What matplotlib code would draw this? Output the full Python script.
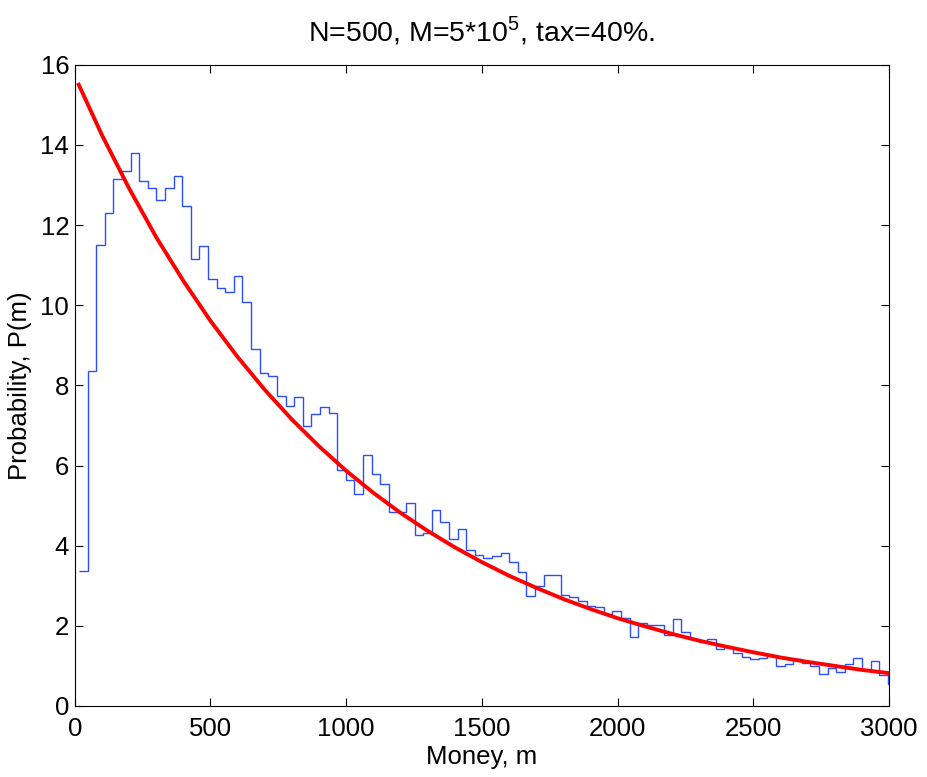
import numpy as np
import matplotlib
matplotlib.use("Agg")
from matplotlib import pyplot as plt

# histogram of simulated money distribution (bin heights)
bin_start = 15.8
bin_width = 31.7
hist_vals = [3.37, 8.35, 11.5, 12.3, 13.15, 13.35, 13.8, 13.1, 12.93, 12.62,
             12.93, 13.22, 12.47, 11.16, 11.48, 10.65, 10.42, 10.32, 10.74, 10.07,
             8.9, 8.31, 8.24, 7.74, 7.49, 7.72, 6.98, 7.28, 7.46, 7.31,
             5.89, 5.65, 5.28, 6.26, 5.80, 5.55, 4.83, 4.83, 5.06, 4.27,
             4.31, 4.88, 4.58, 4.16, 4.41, 3.90, 3.77, 3.70, 3.75, 3.81,
             3.60, 3.34, 2.74, 3.00, 3.28, 3.26, 2.76, 2.71, 2.63, 2.49,
             2.47, 2.29, 2.37, 2.19, 1.73, 2.08, 2.01, 2.01, 1.76, 2.17,
             1.84, 1.67, 1.59, 1.68, 1.43, 1.46, 1.33, 1.23, 1.16, 1.20,
             1.25, 1.01, 1.05, 1.16, 1.06, 1.00, 0.80, 0.95, 0.85, 1.04,
             1.19, 0.91, 1.13, 0.77, 0.56]

# theoretical (Boltzmann-Gibbs) curve
curve_m = [15, 100, 200, 300, 400, 500, 600, 700, 800, 900, 1000,
           1100, 1200, 1300, 1400, 1500, 1600, 1700, 1800, 1900, 2000,
           2100, 2200, 2300, 2400, 2500, 2600, 2700, 2800, 2900, 3000]
curve_p = [15.50, 14.25, 12.92, 11.70, 10.61, 9.61, 8.71, 7.89, 7.15, 6.48, 5.87,
           5.32, 4.82, 4.37, 3.96, 3.59, 3.25, 2.95, 2.67, 2.42, 2.19,
           1.99, 1.80, 1.63, 1.48, 1.34, 1.21, 1.10, 1.00, 0.90, 0.82]

x_ticks = [0, 500, 1000, 1500, 2000, 2500, 3000]
y_ticks = [0, 2, 4, 6, 8, 10, 12, 14, 16]

plt.rcParams['font.family'] = ['Liberation Sans', 'DejaVu Sans']
plt.rcParams['mathtext.fontset'] = 'custom'
plt.rcParams['mathtext.rm'] = 'Liberation Sans'

fig = plt.figure(figsize=(9.28, 7.77), dpi=100)
ax = fig.add_axes([0.0805, 0.0914, 0.8775, 0.8253])

edges = bin_start + bin_width * np.arange(len(hist_vals) + 1)
ax.stairs(hist_vals, edges, baseline=None, color='#2a4dff', linewidth=1.0)
ax.plot(curve_m, curve_p, color='red', linewidth=2.8)

ax.set_xlim(0, 3000)
ax.set_ylim(0, 16)
ax.set_xticks(x_ticks)
ax.set_yticks(y_ticks)
ax.tick_params(direction='in', length=6, width=0.8, top=True, right=True,
               labelsize=18.5)
ax.tick_params(axis='x', pad=8)
ax.tick_params(axis='y', pad=4)
for s in ax.spines.values():
    s.set_linewidth(0.8)

ax.set_xlabel('Money, m', fontsize=18.5, labelpad=3)
ax.set_ylabel('Probability, P(m)', fontsize=18.5, labelpad=6)
ax.set_title(r'N=500, M=5*10$^{\mathrm{5}}$, tax=40%.', fontsize=20.5, pad=17)

fig.savefig('out.png', dpi=100)
